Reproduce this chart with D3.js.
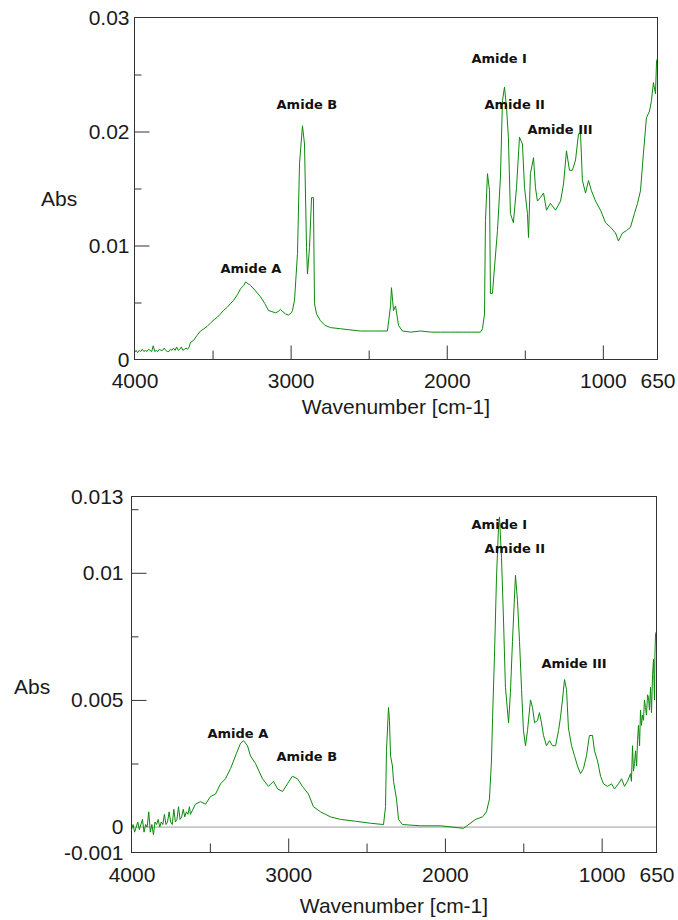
<!DOCTYPE html>
<html>
<head>
<meta charset="utf-8">
<script src="https://cdn.jsdelivr.net/npm/d3@7"></script>
<style>
  body { margin: 0; background: #fff; }
  svg { display: block; }
</style>
</head>
<body>
<script>
// x axis (same for both spectra)
const xLabels = [4000, 3000, 2000, 1000, 650];
const xMajor = [3000, 2000, 1000];
const xMinor = [3500, 2500, 1500];

// y axis, top spectrum
const topYLabels = [0, 0.01, 0.02, 0.03];
const topYMajor = [0.01, 0.02];
const topYMinor = [0.005, 0.015, 0.025];

// y axis, bottom spectrum
const botYLabels = [-0.001, 0, 0.005, 0.01, 0.013];
const botYMajor = [0.005, 0.01];
const botYMinor = [0.0025, 0.0075, 0.0125];

// top spectrum
const topWavenumber = [
  4000, 3990, 3980, 3970, 3960, 3950, 3940, 3930, 3920, 3910, 3900, 3890, 3880, 3870, 3860, 3850, 3840, 3830,
  3820, 3810, 3800, 3790, 3780, 3770, 3760, 3750, 3740, 3730, 3720, 3710, 3700, 3690, 3680, 3670, 3660, 3650,
  3641, 3620, 3600, 3577, 3555, 3535, 3513, 3490, 3470, 3449, 3430, 3405, 3385, 3365, 3340, 3321, 3300, 3289,
  3257, 3230, 3193, 3165, 3142, 3120, 3097, 3080, 3065, 3050, 3033, 3014, 2995, 2988, 2975, 2956, 2943,
  2924, 2911, 2898, 2892, 2879, 2866, 2854, 2847, 2834, 2809, 2780, 2745, 2681, 2620, 2552, 2480, 2424, 2380, 2360, 2354, 2341,
  2328, 2309, 2284, 2230, 2168, 2100, 2040, 1976, 1900, 1840, 1784, 1771, 1758, 1752, 1739, 1726, 1720, 1707, 1694, 1675, 1656, 1643, 1630,
  1617, 1605, 1592, 1573, 1553, 1534, 1515, 1502, 1483, 1476, 1464, 1444, 1432, 1419, 1400, 1380, 1361, 1336,
  1303, 1271, 1252, 1233, 1214, 1195, 1175, 1156, 1143, 1131, 1111, 1092, 1073, 1047, 1015, 983, 951, 919, 900,
  874, 849, 823, 798, 778, 759, 740, 721, 701, 689, 676, 663, 656, 650
];
const topAbs = [
  0.0006, 0.0008, 0.0006, 0.0008, 0.0007, 0.0009, 0.0007, 0.0008, 0.0007, 0.0009, 0.0008, 0.0007, 0.0012, 0.0007, 0.0008, 0.0007, 0.0009, 0.0008,
  0.0008, 0.0010, 0.0008, 0.0007, 0.0007, 0.0009, 0.0008, 0.0010, 0.0008, 0.0011, 0.0008, 0.0009, 0.0011, 0.0008, 0.0009, 0.0010, 0.0009, 0.0011,
  0.0015, 0.0017, 0.0021, 0.0025, 0.0027, 0.0029, 0.0032, 0.0035, 0.0037, 0.0040, 0.0043, 0.0046, 0.0049, 0.0052, 0.0057, 0.0062, 0.0065, 0.0068,
  0.0065, 0.0061, 0.0055, 0.0049, 0.0043, 0.0042, 0.0041, 0.0042, 0.0044, 0.0042, 0.0040, 0.0039, 0.0041, 0.0043, 0.0052, 0.0093, 0.0172,
  0.0205, 0.0189, 0.0098, 0.0075, 0.0098, 0.0142, 0.0142, 0.0049, 0.0040, 0.0034, 0.0030, 0.0028, 0.0027, 0.0026, 0.0025, 0.0025, 0.0025, 0.0025, 0.0047, 0.0063, 0.0043,
  0.0047, 0.0030, 0.0025, 0.0024, 0.0025, 0.0024, 0.0024, 0.0024, 0.0024, 0.0024, 0.0024, 0.0027, 0.0040, 0.0122, 0.0163, 0.0148, 0.0058, 0.0058, 0.0081, 0.0113, 0.0160, 0.0227, 0.0239,
  0.0221, 0.0195, 0.0128, 0.0120, 0.0151, 0.0195, 0.0189, 0.0151, 0.0128, 0.0107, 0.0163, 0.0177, 0.0151, 0.0139, 0.0142, 0.0146, 0.0131, 0.0137,
  0.0131, 0.0139, 0.0154, 0.0183, 0.0166, 0.0166, 0.0175, 0.0198, 0.0198, 0.0157, 0.0146, 0.0157, 0.0148, 0.0139, 0.0131, 0.0120, 0.0116, 0.0111, 0.0104,
  0.0111, 0.0113, 0.0116, 0.0128, 0.0137, 0.0148, 0.0181, 0.0212, 0.0218, 0.0227, 0.0243, 0.0233, 0.0262, 0.0264
];

// bottom spectrum
const botWavenumber = [
  4000, 3990, 3980, 3970, 3960, 3950, 3940, 3930, 3920, 3910, 3900, 3890, 3880, 3870, 3860, 3850, 3840, 3830, 3820, 3810,
  3800, 3790, 3780, 3770, 3760, 3750, 3740, 3730, 3720, 3710, 3700, 3690, 3680, 3670, 3660, 3650, 3640, 3630,
  3624, 3592, 3560, 3528, 3496, 3464, 3432, 3400, 3368, 3330, 3304, 3285, 3260, 3241, 3209, 3164,
  3126, 3094, 3068, 3036, 3005, 2973, 2941, 2909, 2871, 2839, 2794, 2730, 2666, 2571, 2475, 2392, 2379, 2373, 2360, 2354,
  2347, 2335, 2328, 2309, 2296, 2271, 2156, 2028, 1882, 1805, 1760, 1735, 1716, 1703, 1696, 1684, 1671, 1658, 1652, 1639,
  1626, 1614, 1594, 1582, 1569, 1550, 1537, 1524, 1511, 1499, 1486, 1473, 1454, 1441, 1428, 1409, 1397, 1384, 1371, 1352,
  1333, 1314, 1294, 1275, 1263, 1250, 1237, 1224, 1212, 1192, 1173, 1154, 1135, 1116, 1097, 1078, 1058, 1046, 1026, 1007,
  988, 963, 937, 918, 893, 873, 854, 835, 816, 810, 803, 797, 790, 784, 777, 771, 765, 758, 752, 746, 740, 733, 727, 720,
  714, 707, 701, 695, 688, 682, 675, 669, 663, 660, 656, 650
];
const botAbs = [
  -0.0001, 0.0001, -0.0002, 0.0, 0.0002, -0.0001, 0.0001, 0.0003, -0.0002, 0.0001, 0.0, 0.0006, -0.0002, 0.0001, -0.0003, 0.0002, 0.0001, 0.0003, 0.0, 0.0002,
  0.0001, 0.0005, 0.0001, 0.0002, 0.0006, 0.0002, 0.0001, 0.0007, 0.0002, 0.0003, 0.0008, 0.0003, 0.0004, 0.0007, 0.0004, 0.0006, 0.0005, 0.0008,
  0.0005, 0.0009, 0.0010, 0.0009, 0.0012, 0.0013, 0.0017, 0.0019, 0.0023, 0.0029, 0.0033, 0.0034, 0.0032, 0.0028, 0.0025, 0.0019,
  0.0016, 0.0018, 0.0015, 0.0014, 0.0017, 0.0020, 0.0019, 0.0016, 0.0013, 0.0008, 0.0006, 0.0004, 0.0003, 0.00023, 0.00015, 0.0001, 0.0008, 0.0030, 0.0047, 0.0042,
  0.0028, 0.0024, 0.0018, 0.0011, 0.0003, 0.0001, 0.00005, 0.00005, -0.00005, 0.0003, 0.0004, 0.0006, 0.0011, 0.0026, 0.0043, 0.0067, 0.0098, 0.0118, 0.0122, 0.0106,
  0.0081, 0.0055, 0.0041, 0.0053, 0.0073, 0.0099, 0.0089, 0.0073, 0.0054, 0.0038, 0.0032, 0.0038, 0.0050, 0.0047, 0.0041, 0.0042, 0.0045, 0.0041, 0.0036, 0.0032,
  0.0034, 0.0032, 0.0032, 0.0038, 0.0043, 0.0050, 0.0058, 0.0054, 0.0039, 0.0032, 0.0028, 0.0024, 0.0021, 0.0023, 0.0028, 0.0036, 0.0036, 0.0030, 0.0026, 0.0020,
  0.0017, 0.0016, 0.0017, 0.0015, 0.0017, 0.0019, 0.0016, 0.0018, 0.0021, 0.0018, 0.0032, 0.0022, 0.0025, 0.0030, 0.0024, 0.0034, 0.0040, 0.0032, 0.0046, 0.0040, 0.0044, 0.0042, 0.0050, 0.0047,
  0.0044, 0.0052, 0.0051, 0.0046, 0.0055, 0.0045, 0.0060, 0.0066, 0.0050, 0.0068, 0.0076, 0.0077
];

// band labels, anchored at (wavenumber, abs) of their left/baseline corner
const amideLabels = ["Amide A", "Amide B", "Amide I", "Amide II", "Amide III"];
const topLabelWn = [3449, 3090, 1842, 1758, 1483];
const topLabelAbs = [0.00763, 0.02193, 0.02605, 0.02193, 0.01982];
const botLabelWn = [3515, 3075, 1830, 1747, 1384];
const botLabelAbs = [0.00351, 0.00261, 0.01172, 0.01078, 0.00625];

const width = 678, height = 920;
const green = "#0b8a0b";
const frameColor = "#333";
const fontSize = 21;

const svg = d3.select("body").append("svg")
  .attr("width", width)
  .attr("height", height)
  .attr("font-family", "'Liberation Sans', Arial, sans-serif");

function drawPanel({ left, right, top, bottom, yDomain, yLabels, yMajor, yMinor,
  wn, abs, labelWn, labelAbs, zeroLine, yPad, xPad, absY, titleY }) {
  const x = d3.scaleLinear().domain([4000, 650]).range([left, right]);
  const y = d3.scaleLinear().domain(yDomain).range([bottom, top]);
  const g = svg.append("g");

  // zero line (bottom panel)
  if (zeroLine) {
    g.append("line")
      .attr("x1", left).attr("x2", right)
      .attr("y1", y(0)).attr("y2", y(0))
      .attr("stroke", "#9a9a9a")
      .attr("stroke-width", 1);
  }

  // spectrum
  const line = d3.line()
    .x((d, i) => x(wn[i]))
    .y((d, i) => y(abs[i]));
  g.append("path")
    .attr("d", line(wn))
    .attr("fill", "none")
    .attr("stroke", green)
    .attr("stroke-width", 1);

  // ticks pointing inward
  const tickAxis = (axis, values, size, transform) => {
    g.append("g")
      .attr("transform", transform)
      .call(axis.tickValues(values).tickSize(size).tickSizeOuter(0).tickFormat(""))
      .call(s => s.select(".domain").remove())
      .call(s => s.selectAll("line").attr("stroke", frameColor));
  };
  tickAxis(d3.axisLeft(y), yMajor, -15, `translate(${left},0)`);
  tickAxis(d3.axisLeft(y), yMinor, -7, `translate(${left},0)`);
  tickAxis(d3.axisBottom(x), xMajor, -14, `translate(0,${bottom})`);
  tickAxis(d3.axisBottom(x), xMinor, -9, `translate(0,${bottom})`);

  // tick labels
  g.append("g")
    .attr("transform", `translate(${left},0)`)
    .call(d3.axisLeft(y).tickValues(yLabels).tickSize(0).tickPadding(yPad).tickFormat(d => String(d)))
    .call(s => s.select(".domain").remove())
    .call(s => s.selectAll("text").attr("font-size", fontSize).attr("fill", "#1a1a1a").attr("font-family", null));
  g.append("g")
    .attr("transform", `translate(0,${bottom})`)
    .call(d3.axisBottom(x).tickValues(xLabels).tickSize(0).tickPadding(xPad).tickFormat(d => String(d)))
    .call(s => s.select(".domain").remove())
    .call(s => s.selectAll("text").attr("font-size", fontSize).attr("fill", "#1a1a1a").attr("font-family", null));

  // frame
  g.append("rect")
    .attr("x", left).attr("y", top)
    .attr("width", right - left).attr("height", bottom - top)
    .attr("fill", "none")
    .attr("stroke", frameColor)
    .attr("stroke-width", 1);

  // axis titles
  g.append("text")
    .attr("x", (left + right) / 2).attr("y", titleY)
    .attr("text-anchor", "middle")
    .attr("font-size", fontSize)
    .attr("fill", "#1a1a1a")
    .text("Wavenumber [cm-1]");
  g.append("text")
    .attr("x", absY[0]).attr("y", absY[1])
    .attr("font-size", fontSize)
    .attr("fill", "#1a1a1a")
    .text("Abs");

  // band labels
  g.selectAll("text.band")
    .data(amideLabels)
    .join("text")
    .attr("class", "band")
    .attr("x", (d, i) => x(labelWn[i]))
    .attr("y", (d, i) => y(labelAbs[i]))
    .attr("font-family", "'DejaVu Sans', Verdana, sans-serif")
    .attr("font-weight", "bold")
    .attr("font-size", 13)
    .attr("fill", "#111")
    .text(d => d);
}

drawPanel({
  left: 134.5, right: 657.5, top: 17.5, bottom: 359.5,
  yDomain: [0, 0.03], yLabels: topYLabels, yMajor: topYMajor, yMinor: topYMinor,
  wn: topWavenumber, abs: topAbs, labelWn: topLabelWn, labelAbs: topLabelAbs,
  zeroLine: false, yPad: 5, xPad: 14, absY: [41, 206], titleY: 414
});

drawPanel({
  left: 131.5, right: 656.5, top: 496.5, bottom: 852.5,
  yDomain: [-0.001, 0.013], yLabels: botYLabels, yMajor: botYMajor, yMinor: botYMinor,
  wn: botWavenumber, abs: botAbs, labelWn: botLabelWn, labelAbs: botLabelAbs,
  zeroLine: true, yPad: 8, xPad: 15, absY: [14, 694], titleY: 913
});
</script>
</body>
</html>
